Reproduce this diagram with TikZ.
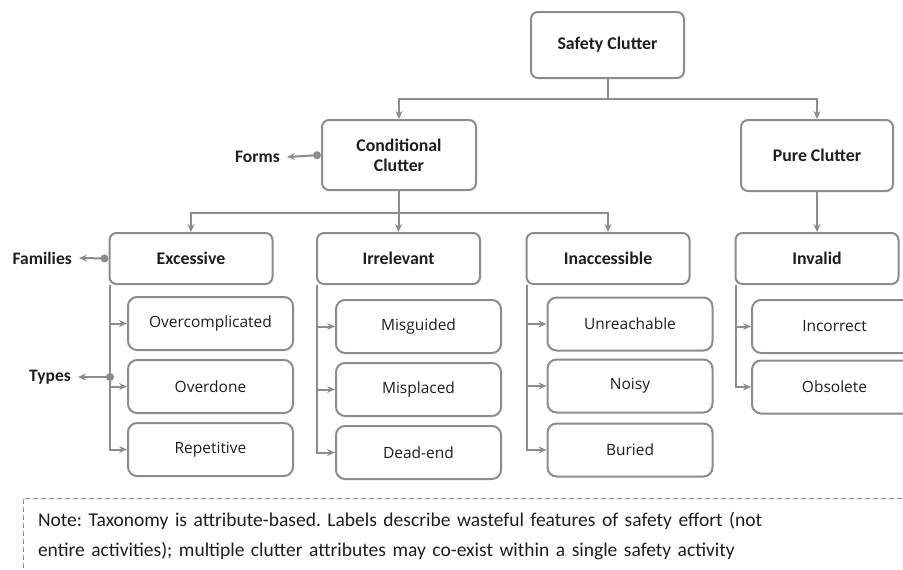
\documentclass[tikz,border=0pt]{standalone}
\usepackage{fontspec}
\setmainfont{Carlito}
\newfontfamily\typefont{Open Sans}
\usetikzlibrary{arrows.meta,positioning}
\definecolor{linegray}{HTML}{8C8C8C}
\definecolor{inkgray}{HTML}{1E1E1E}

\begin{document}
\begin{tikzpicture}[x=1pt,y=-1pt,
  every node/.style={text=inkgray},
  head/.style={draw=linegray, line width=2pt, rounded corners=7pt, fill=white, align=center, inner sep=0pt, font=\bfseries\fontsize{17.8}{20}\selectfont},
  kind/.style={draw=linegray, line width=2pt, rounded corners=9pt, fill=white, minimum width=165pt, minimum height=53pt, inner sep=0pt, font=\typefont\fontsize{15.5}{18}\selectfont},
  lvl/.style={inner sep=0pt, font=\bfseries\fontsize{17.5}{20}\selectfont},
  tree edge/.style={linegray, line width=2pt, -{Stealth[length=8pt,width=7pt]}},
  side edge/.style={linegray, line width=2pt, {Circle[length=8pt]}-{Stealth[length=8pt,width=7pt]}}]
\useasboundingbox (0,0) rectangle (903,570);
\clip (0,0) rectangle (903,570);

% top levels
\node[head, minimum width=153pt, minimum height=66pt] (safety) at (607.5,45) {Safety Clutter};
\node[head, minimum width=154pt, minimum height=70pt] (cond) at (399,155) {Conditional\\Clutter};
\node[head, minimum width=152pt, minimum height=71pt] (pure) at (817,155.5) {Pure Clutter};

% families
\foreach \name/\x/\txt in {excessive/191/Excessive, irrelevant/398.5/Irrelevant, inaccessible/608/Inaccessible, invalid/817/Invalid}
  { \node[head, minimum width=163pt, minimum height=51pt] (\name) at (\x,258.5) {\txt}; }

% types
\foreach \name/\x/\y/\txt in {overcomplicated/210.5/323.5/Overcomplicated, overdone/210.5/386.5/Overdone, repetitive/210.5/449.5/Repetitive,
  misguided/418.5/326.5/Misguided, misplaced/418.5/389.5/Misplaced, deadend/418.5/452.5/Dead-end,
  unreachable/630/324/Unreachable, noisy/630/386/Noisy, buried/630/450/Buried,
  incorrect/834.5/326.5/Incorrect, obsolete/834.5/387/Obsolete}
  { \node[kind] (\name) at (\x,\y) {\txt}; }

% level labels
\node[lvl, anchor=east] (forms) at (280,157) {Forms};
\node[lvl, anchor=east] (families) at (72,258) {Families};
\node[lvl, anchor=east] (types) at (71,377) {Types};
\coordinate (typedot) at (110,377);

\draw[tree edge] (safety.south) -- ++(0,20) -| (cond.north);
\draw[tree edge] (safety.south) -- ++(0,20) -| (pure.north);
\foreach \j in {excessive,irrelevant,inaccessible}
  { \draw[tree edge] (cond.south) -- ++(0,22) -| (\j.north); }
\draw[tree edge] (pure.south) -- (invalid.north);

\foreach \p/\c in {excessive/overcomplicated, excessive/overdone, excessive/repetitive,
  irrelevant/misguided, irrelevant/misplaced, irrelevant/deadend,
  inaccessible/unreachable, inaccessible/noisy, inaccessible/buried,
  invalid/incorrect, invalid/obsolete}
  { \draw[tree edge] ([xshift=1pt]\p.south west) |- (\c.west); }

\draw[side edge] (cond.west) -- ([xshift=7pt]forms.east);
\draw[side edge] (excessive.west) -- ([xshift=7pt]families.east);
\draw[side edge] ([xshift=4pt]typedot) -- ([xshift=7pt]types.east);

% note
\node[draw=linegray, dash pattern=on 5pt off 3pt, line width=1pt, anchor=north west, text width=870pt,
  align=left, inner xsep=15pt, inner ysep=14pt, font=\frenchspacing\fontsize{19.5}{30}\selectfont] (note) at (22.5,498)
  {Note: Taxonomy is attribute-based. Labels describe wasteful features of safety effort (not\\
  entire activities); multiple clutter attributes may co-exist within a single safety activity\\ \strut};
\end{tikzpicture}
\end{document}
